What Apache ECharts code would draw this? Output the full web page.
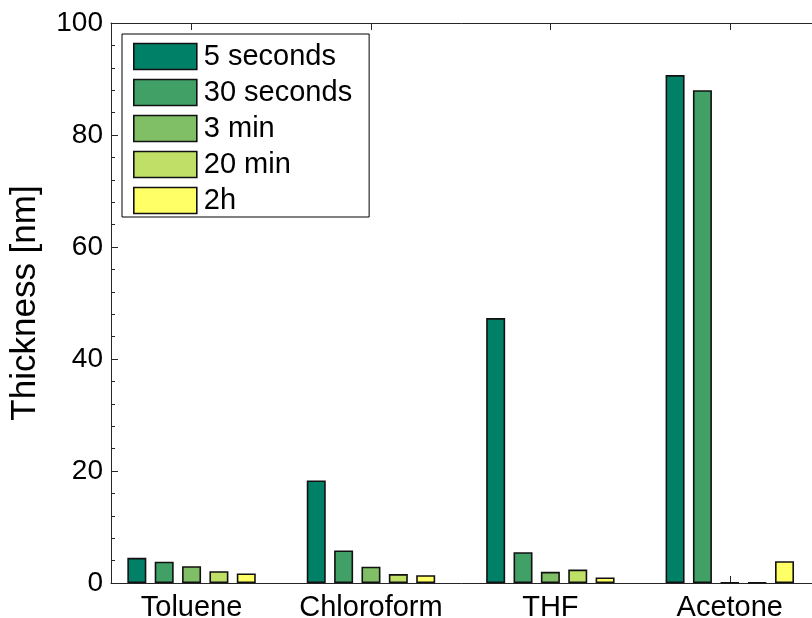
<!DOCTYPE html>
<html>
<head>
<meta charset="utf-8">
<script src="https://cdn.jsdelivr.net/npm/echarts@6/dist/echarts.min.js"></script>
<style>
  html, body { margin: 0; padding: 0; background: #fff; }
  #chart { width: 812px; height: 618px; }
</style>
</head>
<body>
<div id="chart"></div>
<script>
// Solvents on the x axis (positions 1..4)
const solvents = ['Toluene', 'Chloroform', 'THF', 'Acetone'];
const solventPos = [1, 2, 3, 4];

// Exposure times (legend entries) and their colours (summer colormap)
const times = ['5 seconds', '30 seconds', '3 min', '20 min', '2h'];
const timeColors = ['#008066', '#40A066', '#80BF66', '#BFDF66', '#FFFF66'];

// Film thickness [nm] per exposure time, one value per solvent
const thick5s   = [4.5, 18.3, 47.3, 90.7];
const thick30s  = [3.8, 5.8, 5.5, 88.0];
const thick3m   = [3.0, 2.9, 2.0, 0.1];
const thick20m  = [2.1, 1.6, 2.4, 0.1];
const thick2h   = [1.7, 1.4, 1.0, 3.9];
const thickness = [thick5s, thick30s, thick3m, thick20m, thick2h];

// y axis tick labels
const yTicks = [0, 20, 40, 60, 80, 100];

const FONT = "'Liberation Sans', Arial, Helvetica, sans-serif";
const AXIS_COLOR = '#262626';

const chart = echarts.init(document.getElementById('chart'), null, { renderer: 'canvas' });

const series = times.map((name, i) => ({
  name: name,
  type: 'bar',
  xAxisIndex: 0,
  data: solventPos.map((p, j) => [p, thickness[i][j]]),
  barWidth: 19,
  barGap: '44%',
  itemStyle: {
    color: timeColors[i],
    borderColor: '#111',
    borderWidth: 1.6
  },
  emphasis: { disabled: true },
  z: 3
}));

chart.setOption({
  animation: false,
  backgroundColor: '#fff',
  textStyle: { fontFamily: FONT },
  // plot box runs slightly past the right edge of the canvas
  grid: { left: 111, top: 23, width: 708.5, height: 560, containLabel: false, outerBoundsMode: 'none' },
  legend: {
    orient: 'vertical',
    left: 122,
    top: 34,
    data: times,
    itemWidth: 63,
    itemHeight: 26,
    itemGap: 7,
    padding: [8, 17, 2, 11],
    backgroundColor: '#fff',
    borderColor: '#000',
    borderWidth: 1,
    icon: 'rect',
    itemStyle: { borderColor: '#111', borderWidth: 1.6 },
    textStyle: { fontSize: 29, color: '#000', fontFamily: FONT, padding: [0, 0, 0, 2] },
    selectedMode: false,
    z: 10
  },
  xAxis: [
    {
      type: 'value',
      position: 'bottom',
      min: 0.551,
      max: 4.5,
      splitLine: { show: false },
      axisLine: { show: true, onZero: false, lineStyle: { color: AXIS_COLOR, width: 1 } },
      axisTick: { show: true, inside: true, length: 7, customValues: solventPos, lineStyle: { color: AXIS_COLOR } },
      axisLabel: {
        show: true,
        customValues: solventPos,
        formatter: v => solvents[Math.round(v) - 1] || '',
        fontSize: 29,
        color: '#000',
        fontFamily: FONT,
        margin: 10
      }
    },
    {
      type: 'value',
      position: 'top',
      min: 0.551,
      max: 4.5,
      splitLine: { show: false },
      axisLine: { show: true, onZero: false, lineStyle: { color: AXIS_COLOR, width: 1 } },
      axisTick: { show: true, inside: true, length: 7, customValues: solventPos, lineStyle: { color: AXIS_COLOR } },
      axisLabel: { show: false }
    }
  ],
  yAxis: {
    type: 'value',
    min: yTicks[0],
    max: yTicks[yTicks.length - 1],
    interval: 20,
    name: 'Thickness [nm]',
    nameLocation: 'middle',
    nameGap: 68,
    nameTextStyle: { fontSize: 35, color: '#000', fontFamily: FONT },
    splitLine: { show: false },
    axisLine: { show: true, lineStyle: { color: AXIS_COLOR, width: 1 } },
    axisTick: { show: true, inside: true, length: 7, lineStyle: { color: AXIS_COLOR } },
    minorTick: { show: true, splitNumber: 5, length: 4, lineStyle: { color: AXIS_COLOR } },
    axisLabel: { fontSize: 28, color: '#000', fontFamily: FONT, margin: 8 }
  },
  series: series
});
</script>
</body>
</html>
